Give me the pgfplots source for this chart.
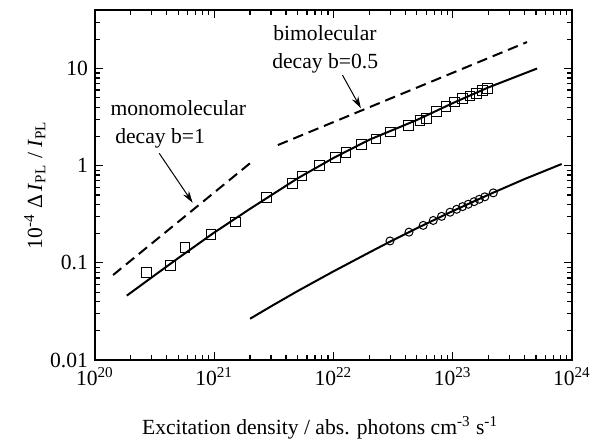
\documentclass[border=0pt]{standalone}
\usepackage{fontspec}
\setmainfont{Liberation Serif}
\usepackage{pgfplots}
\pgfplotsset{compat=1.18}
\usetikzlibrary{arrows.meta}

\begin{document}
\begin{tikzpicture}[font=\fontsize{10.8pt}{13pt}\selectfont]
\begin{axis}[
  scale only axis,
  width=238.5pt, height=175pt,
  xmode=log, ymode=log,
  xmin=1e20, xmax=1e24, ymin=0.01, ymax=40,
  xtick={1e20,1e21,1e22,1e23,1e24},
  xticklabels={10\textsuperscript{20},10\textsuperscript{21},10\textsuperscript{22},10\textsuperscript{23},10\textsuperscript{24}},
  minor xtick={2e20,3e20,4e20,5e20,6e20,7e20,8e20,9e20,
               2e21,3e21,4e21,5e21,6e21,7e21,8e21,9e21,
               2e22,3e22,4e22,5e22,6e22,7e22,8e22,9e22,
               2e23,3e23,4e23,5e23,6e23,7e23,8e23,9e23},
  ytick={0.01,0.1,1,10},
  yticklabels={0.01,0.1,1,10},
  minor ytick={0.02,0.03,0.04,0.05,0.06,0.07,0.08,0.09,
               0.2,0.3,0.4,0.5,0.6,0.7,0.8,0.9,
               2,3,4,5,6,7,8,9,20,30},
  tick align=inside,
  major tick length=4pt, minor tick length=2.5pt,
  tick style={line width=0.6pt, black},
  axis line style={line width=1pt},
  every tick label/.append style={font=\fontsize{10.8pt}{13pt}\selectfont},
  xlabel={Excitation density / abs. photons cm\textsuperscript{-3} s\textsuperscript{-1}},
  ylabel={10\textsuperscript{-4} Δ\,\textit{I}\textsubscript{PL} / \textit{I}\textsubscript{PL}},
  xlabel style={at={(axis description cs:0.472,-0.193)}, anchor=center},
  ylabel style={at={(axis description cs:-0.126,0.5)}, anchor=center},
  clip=false,
]
% dashed guide lines
\addplot[black, line width=1pt, dash pattern=on 5.3pt off 3pt] coordinates {(1.42e20,0.075) (2e21,1.06)};
\addplot[black, line width=1pt, dash pattern=on 5.3pt off 3pt] coordinates {(3.42e21,1.63) (4.2e23,18.7)};

% fits
\addplot[black, line width=1pt] coordinates {
  (1.85e20,0.046) (3e20,0.071) (5e20,0.112) (1e21,0.205) (2e21,0.36) (5e21,0.74)
  (1e22,1.2) (2e22,1.85) (5e22,2.95) (1e23,4.4) (2e23,6.4) (5.1e23,10)
};
\addplot[black, line width=1pt] coordinates {
  (2e21,0.0266) (3e21,0.0357) (5e21,0.0512) (1e22,0.0817) (2e22,0.128) (3e22,0.166)
  (5e22,0.227) (1e23,0.341) (2e23,0.503) (4e23,0.728) (8.2e23,1.04)
};

% data
\addplot[only marks, mark=square, mark size=2.4pt, mark options={line width=0.5pt, black}] coordinates {
  (2.71e20,0.080) (4.32e20,0.094) (5.69e20,0.144) (9.4e20,0.196) (1.51e21,0.263)
  (2.75e21,0.472) (4.55e21,0.658) (5.47e21,0.78) (7.66e21,1.0) (1.04e22,1.21)
  (1.27e22,1.36) (1.72e22,1.66) (2.27e22,1.89) (3.02e22,2.23) (4.24e22,2.6)
  (5.31e22,2.9) (6.05e22,3.07) (7.33e22,3.59) (8.77e22,4.04) (1.04e23,4.54)
  (1.21e23,4.88) (1.40e23,5.2) (1.59e23,5.54) (1.78e23,5.9) (1.96e23,6.24)
};
\addplot[only marks, mark=o, mark size=2pt, mark options={line width=0.5pt, black}] coordinates {
  (2.98e22,0.168) (4.3e22,0.207) (5.66e22,0.243) (6.87e22,0.273) (8.07e22,0.301)
  (9.5e22,0.332) (1.08e23,0.356) (1.21e23,0.379) (1.35e23,0.401) (1.51e23,0.426)
  (1.67e23,0.451) (1.86e23,0.478) (2.19e23,0.525)
};

% annotations
\node[anchor=west, inner sep=0pt] at (axis cs:1.34e20,3.91) {monomolecular};
\node[anchor=west, inner sep=0pt] at (axis cs:1.47e20,1.92) {decay b=1};
\node[anchor=west, inner sep=0pt] at (axis cs:3.11e21,23.1) {bimolecular};
\node[anchor=west, inner sep=0pt] at (axis cs:3.05e21,11.4) {decay b=0.5};
\draw[-{Stealth[length=6pt,width=3.5pt]}, line width=0.5pt] (axis cs:3.46e20,1.34) -- (axis cs:6.6e20,0.415);
\draw[-{Stealth[length=6pt,width=3.5pt]}, line width=0.5pt] (axis cs:1.19e22,8.55) -- (axis cs:1.70e22,3.89);

\path (rel axis cs:-0.199,-0.2286) rectangle (rel axis cs:1.061,1.0286);
\end{axis}
\end{tikzpicture}
\end{document}
